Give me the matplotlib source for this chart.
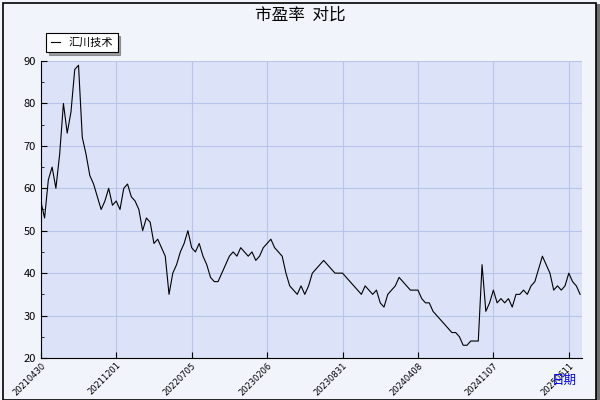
import matplotlib
matplotlib.use("Agg")
import matplotlib.pyplot as plt
from matplotlib.patches import Rectangle

plt.rcParams['font.family'] = ['Noto Sans CJK SC', 'DejaVu Sans']

# ── DATA ─────────────────────────────────────────────────
TICK_LABELS = ["20210430", "20211201", "20220705", "20230206",
               "20230831", "20240408", "20241107", "20250611"]
PE = [57, 53, 62, 65, 60, 68, 80, 73, 78, 88,
      89, 72, 68, 63, 61, 58, 55, 57, 60, 56,
      57, 55, 60, 61, 58, 57, 55, 50, 53, 52,
      47, 48, 46, 44, 35, 40, 42, 45, 47, 50,
      46, 45, 47, 44, 42, 39, 38, 38, 40, 42,
      44, 45, 44, 46, 45, 44, 45, 43, 44, 46,
      47, 48, 46, 45, 44, 40, 37, 36, 35, 37,
      35, 37, 40, 41, 42, 43, 42, 41, 40, 40,
      40, 39, 38, 37, 36, 35, 37, 36, 35, 36,
      33, 32, 35, 36, 37, 39, 38, 37, 36, 36,
      36, 34, 33, 33, 31, 30, 29, 28, 27, 26,
      26, 25, 23, 23, 24, 24, 24, 42, 31, 33,
      36, 33, 34, 33, 34, 32, 35, 35, 36, 35,
      37, 38, 41, 44, 42, 40, 36, 37, 36, 37,
      40, 38, 37, 35]
TICK_STEP = 20

BG = "#F2F4FC"
PLOT_BG = "#DCE2F7"
GRID = "#B8C4EA"

fig = plt.figure(figsize=(6, 4), dpi=100, facecolor=BG)
# frame + shadow
fig.patches.append(Rectangle((0.005, 0.0), 0.988, 0.993, transform=fig.transFigure,
                             facecolor="none", edgecolor="black", linewidth=1.2, zorder=5))
fig.patches.append(Rectangle((0.993, 0.0), 0.007, 0.99, transform=fig.transFigure,
                             facecolor="#707070", edgecolor="none", zorder=4))

ax = fig.add_axes([0.068, 0.105, 0.902, 0.7425], facecolor=PLOT_BG)
ax.plot(range(len(PE)), PE, color="black", linewidth=0.8, label="汇川技术")
ax.set_ylim(20, 90)
ax.set_xlim(0, len(PE) - 0.5)
ax.set_yticks(range(20, 91, 10))
ax.set_yticks(range(25, 90, 10), minor=True)
xt = [i * TICK_STEP for i in range(len(TICK_LABELS))]
ax.set_xticks(xt)
ax.set_xticklabels(TICK_LABELS, rotation=45, ha="right", fontsize=6,
                   family="DejaVu Sans", rotation_mode="anchor")
ax.tick_params(axis="y", labelsize=8, direction="in", length=4)
ax.tick_params(axis="y", which="minor", direction="in", length=2)
ax.tick_params(axis="x", direction="in", length=4, pad=2)
ax.grid(True, color=GRID, linewidth=0.8)
for s in ["top", "right"]:
    ax.spines[s].set_visible(False)

leg = ax.legend(loc="lower left", bbox_to_anchor=(0.0, 1.01), fontsize=8,
                fancybox=False, framealpha=1, edgecolor="black",
                handlelength=0.8, borderpad=0.4, shadow=True)
leg.get_frame().set_linewidth(0.8)

fig.text(0.5, 0.962, "市盈率  对比", ha="center", va="center", fontsize=12)
fig.text(0.94, 0.05, "日期", ha="center", va="center", fontsize=9, color="#0000EE")

fig.savefig("out.png", dpi=100, facecolor=BG)
